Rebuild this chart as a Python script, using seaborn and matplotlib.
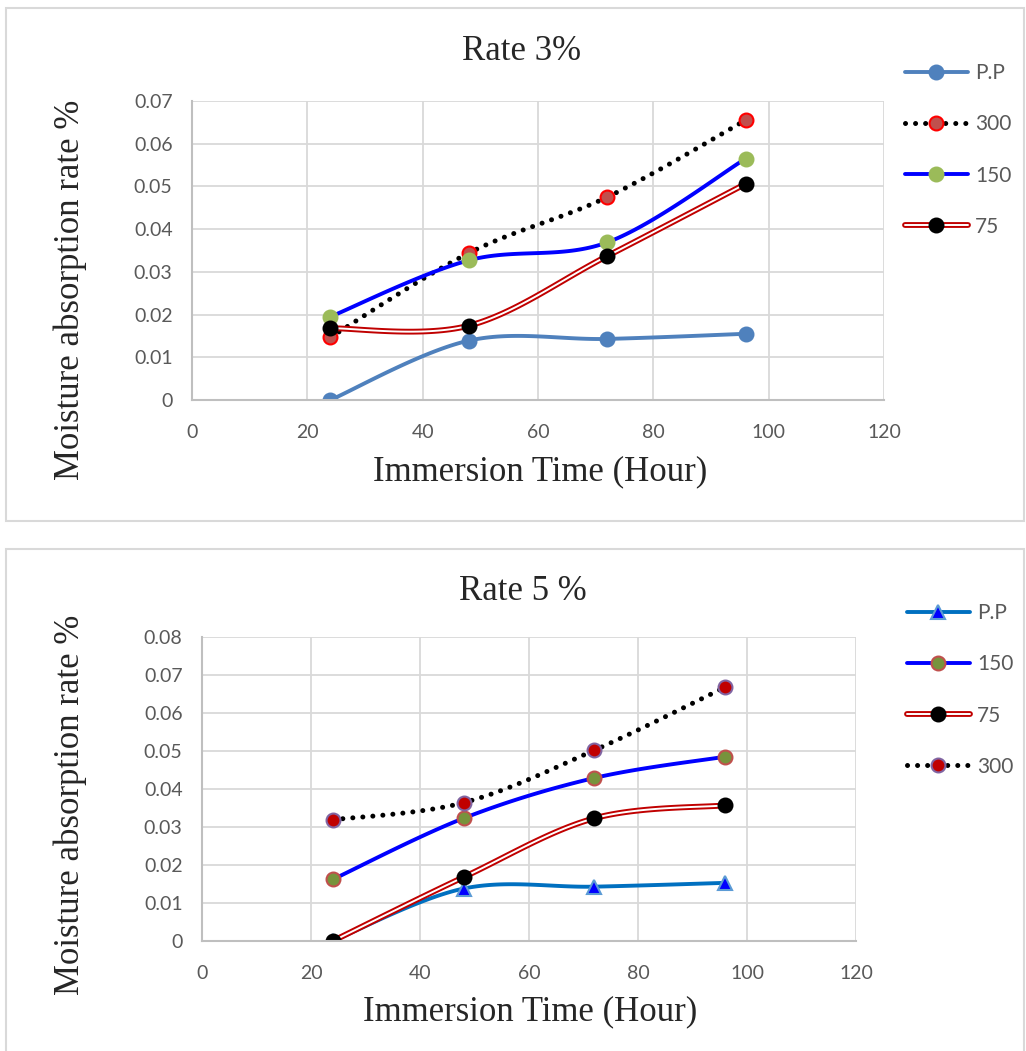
import numpy as np
import matplotlib
matplotlib.use("Agg")
import matplotlib.pyplot as plt
import matplotlib.patheffects as pe
from matplotlib.lines import Line2D
from matplotlib.legend_handler import HandlerTuple
from matplotlib.patches import Rectangle
import seaborn as sns

# ---------------- data ----------------
hours = [24, 48, 72, 96]
x_ticks = [0, 20, 40, 60, 80, 100, 120]

r3_pp = [0.0, 0.0139, 0.0143, 0.0155]
r3_300 = [0.0147, 0.0344, 0.0475, 0.0655]
r3_150 = [0.0195, 0.0327, 0.0369, 0.0565]
r3_75 = [0.0168, 0.0174, 0.0337, 0.0506]

r5_pp = [0.0, 0.0138, 0.0143, 0.0153]
r5_150 = [0.0162, 0.0323, 0.0429, 0.0485]
r5_75 = [0.0, 0.0168, 0.0323, 0.0357]
r5_300 = [0.0319, 0.0364, 0.0502, 0.0668]

y_ticks_3 = [0, 0.01, 0.02, 0.03, 0.04, 0.05, 0.06, 0.07]
y_ticks_5 = [0, 0.01, 0.02, 0.03, 0.04, 0.05, 0.06, 0.07, 0.08]
y_labels_3 = ["0", "0.01", "0.02", "0.03", "0.04", "0.05", "0.06", "0.07"]
y_labels_5 = ["0", "0.01", "0.02", "0.03", "0.04", "0.05", "0.06", "0.07", "0.08"]

title_3 = "Rate 3%"
title_5 = "Rate 5 %"
xlabel = "Immersion Time (Hour)"
ylabel = "Moisture absorption rate %"

sns.set_style("white")
plt.rcParams["font.family"] = ["Lato", "DejaVu Sans"]

W, H = 1026, 1051
fig = plt.figure(figsize=(W / 100, H / 100), dpi=100)


def smooth(x, y, n=40):
    P = np.column_stack([x, y]).astype(float)
    out = []
    for i in range(len(P) - 1):
        p0 = P[max(i - 1, 0)]
        p1 = P[i]
        p2 = P[i + 1]
        p3 = P[min(i + 2, len(P) - 1)]
        c1 = p1 + (p2 - p0) / 6.0
        c2 = p2 - (p3 - p1) / 6.0
        t = np.linspace(0, 1, n)[:, None]
        seg = (1 - t) ** 3 * p1 + 3 * (1 - t) ** 2 * t * c1 + 3 * (1 - t) * t ** 2 * c2 + t ** 3 * p2
        out.append(seg if i == 0 else seg[1:])
    S = np.vstack(out)
    return S[:, 0], S[:, 1]


def fx(px):
    return px / W


def fy(py):
    return 1 - py / H


def add_panel(y0, y1):
    fig.patches.append(Rectangle((fx(6), fy(y1)), fx(1018), (y1 - y0) / H,
                                 transform=fig.transFigure, fill=False,
                                 edgecolor="#d9d9d9", linewidth=1.5, zorder=0))


def style_axes(ax, yticks, ylabels, ymax):
    ax.set_xlim(0, 120)
    ax.set_ylim(0, ymax)
    ax.set_xticks(x_ticks)
    ax.set_xticklabels([str(v) for v in x_ticks])
    ax.set_yticks(yticks)
    ax.set_yticklabels(ylabels)
    ax.grid(True, color="#d9d9d9", linewidth=1.3)
    ax.set_axisbelow(True)
    for s in ["top", "right"]:
        ax.spines[s].set_visible(False)
    for s in ["left", "bottom"]:
        ax.spines[s].set_color("#bfbfbf")
        ax.spines[s].set_linewidth(1.5)
    ax.tick_params(axis="both", length=0, labelsize=14, labelcolor="#595959")
    ax.tick_params(axis="y", pad=14)
    ax.tick_params(axis="x", pad=17)
    ax.set_xlabel("")
    ax.set_ylabel("")


def draw_series(ax, y, kind, color, marker, mfc, mec, ms, ew=1.5):
    xs, ys = smooth(hours, y)
    if kind == "solid":
        sns.lineplot(x=xs, y=ys, sort=False, estimator=None, ax=ax, color=color,
                     linewidth=2.8, solid_capstyle="round")
        lh = Line2D([], [], color=color, linewidth=2.8)
    elif kind == "dotted":
        sns.lineplot(x=xs, y=ys, sort=False, estimator=None, ax=ax, color=color,
                     linewidth=3.6, linestyle=(0, (0.01, 2.0)), dash_capstyle="round")
        lh = Line2D([], [], color=color, linewidth=3.6, linestyle=(0, (0.01, 2.0)),
                    dash_capstyle="round")
    else:  # double line
        effects = [pe.Stroke(linewidth=4.2, foreground=color), pe.Normal()]
        sns.lineplot(x=xs, y=ys, sort=False, estimator=None, ax=ax, color="white",
                     linewidth=1.4, path_effects=effects)
        lh = Line2D([], [], color="white", linewidth=1.4, path_effects=effects)
    ax.plot(hours, y, linestyle="none", marker=marker, markersize=ms,
            markerfacecolor=mfc, markeredgecolor=mec, markeredgewidth=ew)
    mh = Line2D([], [], linestyle="none", marker=marker, markersize=ms,
                markerfacecolor=mfc, markeredgecolor=mec, markeredgewidth=ew)
    return (lh, mh)


def add_legend(handles, labels, px, py):
    fig.legend(handles, labels, loc="upper left",
               bbox_to_anchor=(fx(px), fy(py)), bbox_transform=fig.transFigure,
               frameon=False, fontsize=15, labelcolor="#595959",
               handlelength=3.0, handletextpad=0.35, labelspacing=1.50,
               borderpad=0, borderaxespad=0,
               handler_map={tuple: HandlerTuple(ndivide=1, pad=0)})


serif = ["Liberation Serif", "DejaVu Serif"]

# ---------------- top panel ----------------
add_panel(8, 521)
ax1 = fig.add_axes([fx(192), fy(400), (884 - 192) / W, (400 - 101) / H])
h1 = draw_series(ax1, r3_pp, "solid", "#4f81bd", "o", "#4f81bd", "#4f81bd", 10)
h2 = draw_series(ax1, r3_300, "dotted", "black", "o", "#c0504d", "#ff0000", 10)
h3 = draw_series(ax1, r3_150, "solid", "#0000ff", "o", "#9bbb59", "#9bbb59", 10)
h4 = draw_series(ax1, r3_75, "double", "#c00000", "o", "black", "black", 10)
style_axes(ax1, y_ticks_3, y_labels_3, 0.07)
add_legend([h1, h2, h3, h4], ["P.P", "300", "150", "75"], 905, 63)
fig.text(fx(522), fy(51), title_3, ha="center", va="center", fontsize=25, family=serif)
fig.text(fx(540), fy(472), xlabel, ha="center", va="center", fontsize=25, family=serif)
fig.text(fx(70), fy(290), ylabel, ha="center", va="center", rotation=90, fontsize=25, family=serif)

# ---------------- bottom panel ----------------
add_panel(549, 1058)
ax2 = fig.add_axes([fx(202), fy(941), (856 - 202) / W, (941 - 637) / H])
g1 = draw_series(ax2, r5_pp, "solid", "#0070c0", "^", "#0000ff", "#5b9bd5", 10)
g2 = draw_series(ax2, r5_150, "solid", "#0000ff", "o", "#77933c", "#c0504d", 10)
g3 = draw_series(ax2, r5_75, "double", "#c00000", "o", "black", "black", 10)
g4 = draw_series(ax2, r5_300, "dotted", "black", "o", "#c00000", "#8064a2", 10)
style_axes(ax2, y_ticks_5, y_labels_5, 0.08)
add_legend([g1, g2, g3, g4], ["P.P", "150", "75", "300"], 907, 603)
fig.text(fx(523), fy(592), title_5, ha="center", va="center", fontsize=25, family=serif)
fig.text(fx(530), fy(1012), xlabel, ha="center", va="center", fontsize=25, family=serif)
fig.text(fx(70), fy(805), ylabel, ha="center", va="center", rotation=90, fontsize=25, family=serif)

fig.savefig("out.png", dpi=100)
